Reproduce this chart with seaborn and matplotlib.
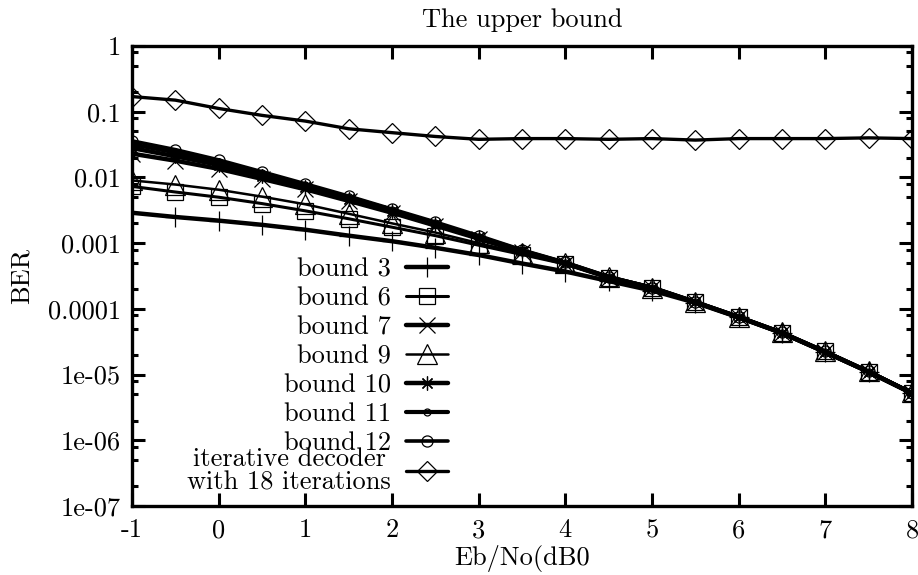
import matplotlib
matplotlib.use("Agg")
import pandas as pd
import seaborn as sns
from matplotlib import pyplot as plt
from matplotlib.ticker import FixedLocator, NullFormatter

# Eb/No in dB
ebno = [-1, -0.5, 0, 0.5, 1, 1.5, 2, 2.5, 3, 3.5, 4, 4.5, 5, 5.5, 6, 6.5, 7, 7.5, 8]

bound3 = [2.9e-3, 2.5e-3, 2.2e-3, 1.9e-3, 1.6e-3, 1.3e-3, 1.07e-3, 8.5e-4, 6.6e-4, 4.9e-4,
          3.7e-4, 2.65e-4, 1.9e-4, 1.24e-4, 7.4e-5, 4.3e-5, 2.2e-5, 1.1e-5, 5.2e-6]
bound6 = [7.3e-3, 6.0e-3, 5.0e-3, 4.0e-3, 3.1e-3, 2.35e-3, 1.75e-3, 1.3e-3, 9.3e-4, 6.7e-4,
          4.8e-4, 3.0e-4, 2.1e-4, 1.27e-4, 7.5e-5, 4.3e-5, 2.25e-5, 1.1e-5, 5.3e-6]
bound7 = [2.3e-2, 1.8e-2, 1.35e-2, 9.5e-3, 6.6e-3, 4.4e-3, 2.9e-3, 1.85e-3, 1.17e-3, 7.3e-4,
          4.9e-4, 3.0e-4, 2.1e-4, 1.26e-4, 7.5e-5, 4.3e-5, 2.2e-5, 1.1e-5, 5.2e-6]
bound9 = [9.0e-3, 7.8e-3, 6.5e-3, 5.1e-3, 3.9e-3, 2.8e-3, 2.0e-3, 1.45e-3, 1.0e-3, 7.0e-4,
          4.95e-4, 3.05e-4, 2.1e-4, 1.28e-4, 7.6e-5, 4.4e-5, 2.3e-5, 1.12e-5, 5.4e-6]
bound10 = [2.8e-2, 2.1e-2, 1.55e-2, 1.05e-2, 7.1e-3, 4.7e-3, 3.05e-3, 1.95e-3, 1.22e-3, 7.5e-4,
           5.0e-4, 3.0e-4, 2.1e-4, 1.27e-4, 7.5e-5, 4.3e-5, 2.2e-5, 1.1e-5, 5.2e-6]
bound11 = [3.2e-2, 2.4e-2, 1.7e-2, 1.15e-2, 7.6e-3, 5.0e-3, 3.2e-3, 2.0e-3, 1.25e-3, 7.7e-4,
           5.0e-4, 3.05e-4, 2.1e-4, 1.27e-4, 7.5e-5, 4.3e-5, 2.2e-5, 1.1e-5, 5.2e-6]
bound12 = [3.6e-2, 2.65e-2, 1.85e-2, 1.22e-2, 8.0e-3, 5.2e-3, 3.3e-3, 2.1e-3, 1.3e-3, 7.9e-4,
           5.1e-4, 3.1e-4, 2.1e-4, 1.28e-4, 7.6e-5, 4.4e-5, 2.25e-5, 1.12e-5, 5.3e-6]
iterative = [0.17, 0.15, 0.112, 0.088, 0.072, 0.055, 0.048, 0.042, 0.038, 0.039,
             0.039, 0.038, 0.039, 0.037, 0.039, 0.039, 0.039, 0.040, 0.039]

labels = ["bound 3", "bound 6", "bound 7", "bound 9", "bound 10", "bound 11", "bound 12",
          "iterative decoder\nwith 18 iterations"]
values = [bound3, bound6, bound7, bound9, bound10, bound11, bound12, iterative]

xticks = [-1, 0, 1, 2, 3, 4, 5, 6, 7, 8]
xtick_labels = ["-1", "0", "1", "2", "3", "4", "5", "6", "7", "8"]
yticks = [1e-7, 1e-6, 1e-5, 1e-4, 1e-3, 1e-2, 1e-1, 1]
ytick_labels = ["1e-07", "1e-06", "1e-05", "0.0001", "0.001", "0.01", "0.1", "1"]

df = pd.concat([pd.DataFrame({"ebno": ebno, "ber": v, "curve": lab})
                for lab, v in zip(labels, values)], ignore_index=True)

# marker, marker size, line width
styles = {
    "bound 3": ("+", 14, 3.2),
    "bound 6": ("s", 11, 2.2),
    "bound 7": ("x", 12, 3.2),
    "bound 9": ("^", 15, 1.8),
    "bound 10": ((8, 2, 0), 10, 3.2),
    "bound 11": ("o", 5, 3.0),
    "bound 12": ("o", 8, 2.6),
    "iterative decoder\nwith 18 iterations": ("D", 10, 2.4),
}

sns.set_style("ticks")
plt.rcParams['font.family'] = ['cmr10', 'DejaVu Serif']
plt.rcParams['axes.unicode_minus'] = False
plt.rcParams['font.size'] = 19
for key in ("text.color", "axes.labelcolor", "axes.edgecolor", "xtick.color", "ytick.color"):
    plt.rcParams[key] = "black"

fig, ax = plt.subplots(figsize=(9.18, 5.75), dpi=100)
fig.subplots_adjust(left=132 / 918, right=912 / 918, top=1 - 46 / 575, bottom=1 - 506 / 575)

for lab in labels:
    mk, ms, lw = styles[lab]
    sns.lineplot(data=df[df["curve"] == lab], x="ebno", y="ber", ax=ax,
                 color="black", marker=mk, markersize=ms, linewidth=lw,
                 markerfacecolor="none", markeredgecolor="black", markeredgewidth=0.9,
                 label=lab, legend=False)

ax.set_yscale("log")
ax.set_xlim(-1, 8)
ax.set_ylim(1e-7, 1)
ax.set_xticks(xticks, xtick_labels)
ax.set_yticks(yticks, ytick_labels)
ax.yaxis.set_minor_locator(FixedLocator([s * d for d in yticks[:-1] for s in (2, 5, 8)]))
ax.yaxis.set_minor_formatter(NullFormatter())
ax.tick_params(which="both", direction="in", top=True, right=True, width=2.2,
               color="black", labelsize=19)
ax.tick_params(which="major", length=9.5)
ax.tick_params(which="minor", length=4.5)
ax.tick_params(axis="x", pad=9)
ax.tick_params(axis="y", pad=8)
for sp in ax.spines.values():
    sp.set_linewidth(2.4)
    sp.set_color("black")

ax.set_title("The upper bound", fontsize=19, pad=14)
ax.set_xlabel("Eb/No(dB0", fontsize=19, labelpad=2)
ax.set_ylabel("BER", fontsize=19, labelpad=10)

handles, names = ax.get_legend_handles_labels()
leg_kw = dict(loc="upper right", frameon=False, markerfirst=False, handlelength=1.6,
              handletextpad=0.55, labelspacing=0.2, borderpad=0, borderaxespad=0,
              fontsize=19)
leg1 = ax.legend(handles[:-1], names[:-1], bbox_to_anchor=(0.405, 0.54), **leg_kw)
ax.add_artist(leg1)
leg2 = ax.legend(handles[-1:], names[-1:], bbox_to_anchor=(0.405, 0.127), **leg_kw)
for t in leg2.get_texts():
    t.set_linespacing(0.95)
    t.set_multialignment("center")

fig.savefig("out.png", dpi=100)
